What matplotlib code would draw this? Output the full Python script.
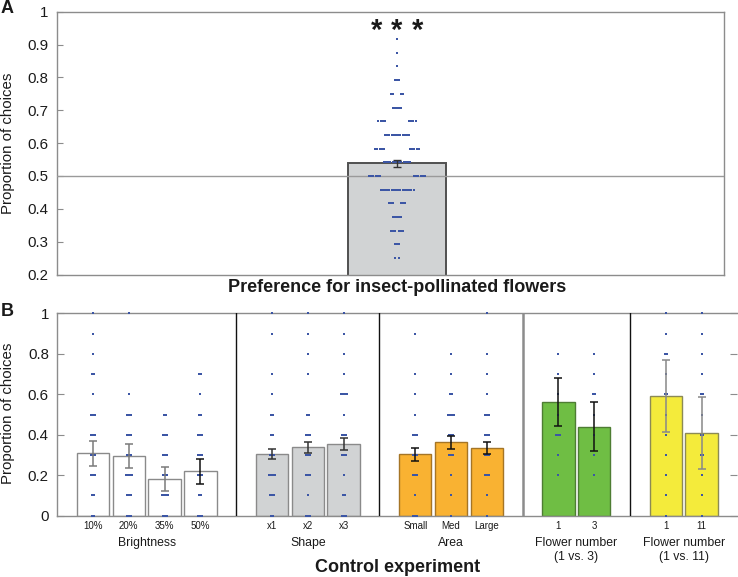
import numpy as np
import matplotlib
matplotlib.use("Agg")
import matplotlib.pyplot as plt
import matplotlib.transforms as mtrans

plt.rcParams['font.family'] = ['Liberation Sans', 'DejaVu Sans']

# ---------------- data: panel A ----------------
a_title = "Preference for insect-pollinated flowers"
a_mean = 0.539
a_sem = 0.011
a_levels = [6/24, 7/24, 8/24, 9/24, 10/24, 11/24, 12/24, 13/24, 14/24,
            15/24, 16/24, 17/24, 18/24, 19/24, 20/24, 21/24, 22/24]
a_counts = [2, 3, 6, 5, 6, 16, 12, 13, 10, 12, 8, 5, 4, 3, 1, 1, 1]
a_yticks = [0.2, 0.3, 0.4, 0.5, 0.6, 0.7, 0.8, 0.9, 1.0]
a_yticklabels = ["0.2", "0.3", "0.4", "0.5", "0.6", "0.7", "0.8", "0.9", "1"]
a_signif = "*"

# ---------------- data: panel B ----------------
groups = ["Brightness", "Shape", "Area", "Flower number\n(1 vs. 3)", "Flower number\n(1 vs. 11)"]
categories = [["10%", "20%", "35%", "50%"], ["x1", "x2", "x3"],
              ["Small", "Med", "Large"], ["1", "3"], ["1", "11"]]
means = [[0.308, 0.295, 0.180, 0.219], [0.305, 0.337, 0.354],
         [0.303, 0.364, 0.334], [0.562, 0.439], [0.591, 0.407]]
sems = [[0.062, 0.061, 0.060, 0.060], [0.027, 0.029, 0.028],
        [0.033, 0.032, 0.030], [0.120, 0.121], [0.178, 0.178]]
choice_levels = [0.0, 0.1, 0.2, 0.3, 0.4, 0.5, 0.6, 0.7, 0.8, 0.9, 1.0]
point_counts = [
    [[2, 2, 3, 3, 3, 3, 1, 2, 1, 1, 1],
     [3, 3, 4, 3, 3, 3, 1, 0, 0, 0, 1],
     [3, 4, 3, 3, 3, 2, 0, 0, 0, 0, 0],
     [3, 2, 3, 3, 3, 2, 1, 2, 0, 0, 0]],
    [[2, 3, 4, 3, 2, 2, 1, 1, 0, 1, 1],
     [3, 1, 3, 3, 3, 2, 0, 1, 1, 1, 1],
     [3, 2, 1, 3, 3, 1, 4, 1, 1, 1, 1]],
    [[3, 1, 3, 3, 3, 1, 1, 1, 0, 1, 0],
     [1, 1, 1, 3, 3, 4, 2, 1, 1, 0, 0],
     [1, 1, 3, 3, 3, 3, 1, 1, 1, 0, 1]],
    [[0, 0, 1, 1, 3, 1, 1, 1, 1, 0, 0],
     [0, 0, 1, 1, 1, 1, 2, 1, 1, 0, 0]],
    [[1, 1, 1, 1, 1, 1, 2, 1, 2, 1, 1],
     [1, 1, 1, 2, 2, 1, 2, 1, 1, 1, 1]],
]
b_yticks = [0, 0.2, 0.4, 0.6, 0.8, 1.0]
b_yticklabels = ["0", "0.2", "0.4", "0.6", "0.8", "1"]

# ---------------- styles ----------------
W, H = 738, 577
DOT = '#3c56a5'
SPINE = '#8c8c8c'
# inner half-gap (pixels) for split rows of panel A (0 = continuous row)
a_gaps = [2, 0, 2, 0, 4, 0, 17, 0, 13, 0, 12, 0, 4, 0, 0, 0, 0]
group_face = ['#ffffff', '#d1d3d4', '#f9b232', '#6fbe44', '#f4eb3b']
group_edge = ['#8a8a8a', '#8a8a8a', '#a57526', '#4e7d33', '#8c8a55']
err_colors = [['#7a7a7a', '#7a7a7a', '#7a7a7a', '#111111'], ['#333333'] * 3,
              ['#111111'] * 3, ['#111111'] * 2, ['#888888'] * 2]
divider_styles = [('#111111', 1.0), ('#111111', 1.0), ('#8c8c8c', 1.8), ('#111111', 1.0)]

fig = plt.figure(figsize=(W / 100, H / 100), dpi=100)


def fx(x):
    return x / W


def fy(y):
    return 1 - y / H


# ================= Panel A =================
axA_l, axA_r, axA_t, axA_b = 57, 724, 11.7, 274.5
axA = fig.add_axes([fx(axA_l), fy(axA_b), (axA_r - axA_l) / W, (axA_b - axA_t) / H])
bar_cx = 397
axA.set_xlim(axA_l - bar_cx, axA_r - bar_cx)   # x units = pixels from bar centre
axA.set_ylim(0.2, 1.0)
axA.bar([0], [a_mean], width=98, bottom=0, color='#d1d3d4', edgecolor='#505050',
        linewidth=1.4, zorder=2)
axA.axhline(0.5, color='#9a9a9a', linewidth=1.0, zorder=3)
sp = 2.2
for lev, n, g in zip(a_levels, a_counts, a_gaps):
    if g == 0:
        xs = (np.arange(n) - (n - 1) / 2) * sp
    else:
        half = n // 2
        side = g + np.arange(half) * sp
        xs = np.concatenate([-side, side])
    axA.scatter(xs, np.full(len(xs), lev), s=2.6, marker='s', color=DOT,
                linewidths=0, zorder=4)
axA.errorbar([0], [a_mean], yerr=[a_sem], fmt='none', ecolor='#333333',
             elinewidth=1.0, capsize=3, capthick=1.0, zorder=5)
for dx in (-20.5, 0, 20.5):
    axA.text(dx, 0.942, a_signif, ha='center', va='center', fontsize=21,
             fontweight='bold', color='#1a1a1a')
axA.set_yticks(a_yticks)
axA.set_yticklabels(a_yticklabels)
axA.set_xticks([])
axA.tick_params(axis='y', direction='in', length=4, width=0.8, color=SPINE,
                labelsize=10.8, pad=6, labelcolor='#1a1a1a')
for s in axA.spines.values():
    s.set_color(SPINE)
    s.set_linewidth(1.0)

fig.text(fx(397), fy(287), a_title, ha='center', va='center', fontsize=13,
         fontweight='bold', color='#1a1a1a')
fig.text(fx(8.5), fy(143), "Proportion of choices", rotation=90, ha='center',
         va='center', fontsize=10.8, color='#1a1a1a')
fig.text(fx(7), fy(8.5), "A", ha='center', va='center', fontsize=13,
         fontweight='bold', color='#1a1a1a')

# ================= Panel B =================
slot = 35.8
axB_l, axB_t, axB_b = 57.2, 313.3, 515.7
nslots = 19
axB = fig.add_axes([fx(axB_l), fy(axB_b), nslots * slot / W, (axB_b - axB_t) / H])
axB.set_xlim(0, nslots)
axB.set_ylim(0, 1)

pos = 1
xt, xl = [], []
blend = mtrans.blended_transform_factory(axB.transData, fig.transFigure)
divs = []
for gi, (gname, cats) in enumerate(zip(groups, categories)):
    xs = np.arange(pos, pos + len(cats))
    axB.bar(xs, means[gi], width=0.9, color=group_face[gi], edgecolor=group_edge[gi],
            linewidth=1.0, zorder=2)
    for bi, x in enumerate(xs):
        for lev, n in zip(choice_levels, point_counts[gi][bi]):
            if n == 0:
                continue
            offs = (np.arange(n) - (n - 1) / 2) * 0.056
            axB.scatter(x + offs, np.full(n, lev), s=3.0, marker='s', color=DOT,
                        linewidths=0, zorder=4, clip_on=False)
        axB.errorbar([x], [means[gi][bi]], yerr=[sems[gi][bi]], fmt='none',
                     ecolor=err_colors[gi][bi], elinewidth=1.1, capsize=3,
                     capthick=1.1, zorder=5)
    xt.extend(xs)
    xl.extend(cats)
    lines = gname.split("\n")
    if len(lines) == 1:
        axB.text(xs.mean(), fy(543), gname, transform=blend, ha='center',
                 va='center', fontsize=8.8, color='#1a1a1a')
    else:
        axB.text(xs.mean(), fy(543), lines[0], transform=blend, ha='center',
                 va='center', fontsize=8.8, color='#1a1a1a')
        axB.text(xs.mean(), fy(557), lines[1], transform=blend, ha='center',
                 va='center', fontsize=8.8, color='#1a1a1a')
    pos += len(cats)
    if gi < len(groups) - 1:
        divs.append(pos)
        pos += 1

for d, (c, lw) in zip(divs, divider_styles):
    axB.axvline(d, color=c, linewidth=lw, zorder=3)

axB.set_xticks(xt)
axB.set_xticklabels(xl)
axB.tick_params(axis='x', length=0, labelsize=7, pad=4, labelcolor='#1a1a1a')
axB.set_yticks(b_yticks)
axB.set_yticklabels(b_yticklabels)
axB.tick_params(axis='y', direction='in', length=5, width=0.8, color=SPINE,
                labelsize=10.8, pad=6, labelcolor='#1a1a1a', right=True)
for s in axB.spines.values():
    s.set_color(SPINE)
    s.set_linewidth(1.0)
axB.spines['right'].set_visible(False)

fig.text(fx(398), fy(567), "Control experiment", ha='center', va='center',
         fontsize=13, fontweight='bold', color='#1a1a1a')
fig.text(fx(8.5), fy(413), "Proportion of choices", rotation=90, ha='center',
         va='center', fontsize=10.8, color='#1a1a1a')
fig.text(fx(7), fy(311), "B", ha='center', va='center', fontsize=13,
         fontweight='bold', color='#1a1a1a')

fig.savefig("out.png", dpi=100)
